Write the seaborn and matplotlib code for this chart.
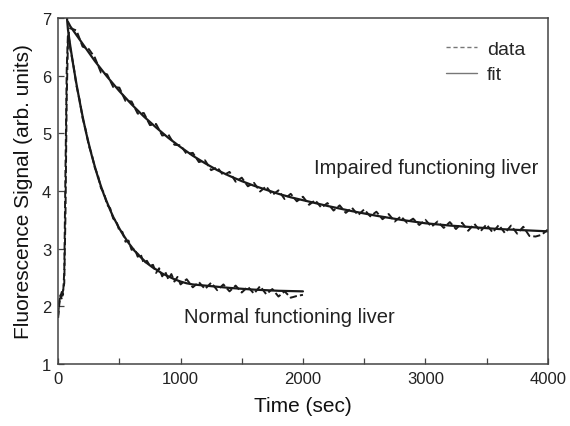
"""
Fluorescence signal vs time for normal and impaired functioning liver
"""

import numpy as np
import matplotlib
matplotlib.use("Agg")
import matplotlib.pyplot as plt
from matplotlib.ticker import MultipleLocator
from matplotlib.lines import Line2D
import seaborn as sns

# --- impaired liver: measured data (sec, arb. units) ---
impaired_time = [0, 10, 20, 30, 40, 50, 60, 70, 80, 90,
                 100, 150, 200, 250, 300, 350, 400, 450, 500, 550,
                 600, 650, 700, 750, 800, 850, 900, 950, 1000, 1050,
                 1100, 1150, 1200, 1250, 1300, 1350, 1400, 1450, 1500, 1550,
                 1600, 1650, 1700, 1750, 1800, 1850, 1900, 1950, 2000, 2050,
                 2100, 2150, 2200, 2250, 2300, 2350, 2400, 2450, 2500, 2550,
                 2600, 2650, 2700, 2750, 2800, 2850, 2900, 2950, 3000, 3050,
                 3100, 3150, 3200, 3250, 3300, 3350, 3400, 3450, 3500, 3550,
                 3600, 3650, 3700, 3750, 3800, 3850, 3900, 3950, 4000]
impaired_data = [1.80, 2.05, 2.20, 2.12, 2.28, 2.40, 3.60, 5.60, 6.55, 6.80,
                 6.82, 6.78, 6.50, 6.46, 6.31, 6.05, 6.02, 5.80, 5.79, 5.56,
                 5.55, 5.34, 5.35, 5.14, 5.16, 4.96, 4.98, 4.80, 4.79, 4.64,
                 4.66, 4.50, 4.53, 4.36, 4.41, 4.27, 4.33, 4.16, 4.23, 4.08,
                 4.14, 3.99, 4.08, 3.93, 4.01, 3.86, 3.95, 3.82, 3.90, 3.76,
                 3.84, 3.71, 3.79, 3.66, 3.75, 3.62, 3.71, 3.58, 3.68, 3.56,
                 3.64, 3.51, 3.60, 3.47, 3.56, 3.45, 3.52, 3.41, 3.50, 3.38,
                 3.47, 3.36, 3.46, 3.34, 3.45, 3.31, 3.43, 3.30, 3.42, 3.28,
                 3.41, 3.27, 3.40, 3.26, 3.38, 3.22, 3.21, 3.24, 3.33]

# --- impaired liver: fit ---
impaired_fit_time = [80, 100, 200, 300, 400, 500, 600, 700, 800, 900,
                     1000, 1100, 1200, 1300, 1400, 1500, 1600, 1700, 1800, 1900,
                     2000, 2200, 2400, 2600, 2800, 3000, 3200, 3400, 3600, 3800,
                     4000]
impaired_fit = [6.93, 6.85, 6.55, 6.25, 5.98, 5.73, 5.50, 5.29, 5.10, 4.92,
                4.76, 4.61, 4.48, 4.36, 4.26, 4.17, 4.09, 4.02, 3.95, 3.89,
                3.84, 3.74, 3.65, 3.57, 3.50, 3.44, 3.40, 3.37, 3.34, 3.32,
                3.30]

# --- normal liver: measured data ---
normal_time = [0, 10, 20, 30, 40, 50, 60, 70, 80, 90,
               100, 125, 150, 175, 200, 225, 250, 275, 300, 325,
               350, 375, 400, 425, 450, 475, 500, 525, 550, 575,
               600, 625, 650, 675, 700, 725, 750, 775, 800, 825,
               850, 875, 900, 925, 950, 975, 1000, 1050, 1100, 1150,
               1200, 1250, 1300, 1350, 1400, 1450, 1500, 1550, 1600, 1650,
               1700, 1750, 1800, 1850, 1900, 1950, 2000]
normal_data = [1.85, 2.10, 2.18, 2.25, 2.20, 2.60, 4.40, 6.10, 6.72, 6.62,
               6.45, 6.18, 5.82, 5.58, 5.26, 5.06, 4.79, 4.63, 4.40, 4.27,
               4.05, 3.96, 3.76, 3.70, 3.52, 3.48, 3.31, 3.29, 3.12, 3.14,
               2.98, 3.00, 2.86, 2.90, 2.74, 2.79, 2.70, 2.72, 2.58, 2.66,
               2.52, 2.60, 2.47, 2.56, 2.43, 2.51, 2.38, 2.47, 2.33, 2.42,
               2.30, 2.41, 2.28, 2.38, 2.26, 2.36, 2.24, 2.34, 2.22, 2.35,
               2.21, 2.30, 2.17, 2.26, 2.15, 2.18, 2.20]

# --- normal liver: fit ---
normal_fit_time = [70, 80, 100, 125, 150, 175, 200, 225, 250, 275,
                   300, 325, 350, 375, 400, 425, 450, 475, 500, 525,
                   550, 575, 600, 625, 650, 675, 700, 725, 750, 775,
                   800, 850, 900, 950, 1000, 1050, 1100, 1200, 1300, 1400,
                   1600, 1800, 2000]
normal_fit = [7.05, 6.80, 6.50, 6.16, 5.85, 5.56, 5.29, 5.04, 4.82, 4.61,
              4.42, 4.24, 4.08, 3.93, 3.80, 3.67, 3.55, 3.45, 3.35, 3.26,
              3.18, 3.10, 3.03, 2.96, 2.91, 2.85, 2.80, 2.75, 2.71, 2.67,
              2.64, 2.57, 2.52, 2.47, 2.43, 2.40, 2.38, 2.36, 2.34, 2.32,
              2.29, 2.27, 2.26]

x_ticks = [0, 1000, 2000, 3000, 4000]
y_ticks = [1, 2, 3, 4, 5, 6, 7]

sns.set_theme(style="ticks")
plt.rcParams["font.family"] = ["Liberation Sans", "DejaVu Sans"]

fig = plt.figure(figsize=(5.7, 4.27), dpi=100)
ax = fig.add_axes([0.102, 0.145, 0.859, 0.811])

line_col = "#1a1a1a"
sns.lineplot(x=impaired_time, y=impaired_data, ax=ax, color=line_col,
             linestyle="--", lw=1.4, sort=False)
sns.lineplot(x=normal_time, y=normal_data, ax=ax, color=line_col,
             linestyle="--", lw=1.4, sort=False)
sns.lineplot(x=impaired_fit_time, y=impaired_fit, ax=ax, color=line_col,
             lw=1.6, sort=False)
sns.lineplot(x=normal_fit_time, y=normal_fit, ax=ax, color=line_col,
             lw=1.6, sort=False)

ax.set_xlim(0, 4000)
ax.set_ylim(1, 7)
ax.set_xticks(x_ticks)
ax.set_yticks(y_ticks)
ax.xaxis.set_minor_locator(MultipleLocator(500))
ax.tick_params(axis="both", which="major", direction="in", length=4,
               width=0.9, color="#444444", labelsize=12, labelcolor="#222222",
               pad=5)
ax.tick_params(axis="x", which="minor", direction="in", length=4,
               width=0.9, color="#444444")
for side in ["top", "right", "left", "bottom"]:
    ax.spines[side].set_visible(True)
    ax.spines[side].set_color("#444444")
    ax.spines[side].set_linewidth(1.1)

ax.set_xlabel("Time (sec)", fontsize=15, color="#111111", labelpad=7)
ax.set_ylabel("Fluorescence Signal (arb. units)", fontsize=15,
              color="#111111", labelpad=6)

ax.text(2090, 4.40, "Impaired functioning liver", fontsize=14.5,
        color="#222222", ha="left", va="center")
ax.text(1030, 1.82, "Normal functioning liver", fontsize=14.5,
        color="#222222", ha="left", va="center")

handles = [Line2D([0], [0], color="#777777", lw=1.0, linestyle=(0, (3, 2))),
           Line2D([0], [0], color="#777777", lw=1.0)]
ax.legend(handles, ["data", "fit"], loc="upper right", frameon=False,
          fontsize=14, handlelength=1.6, handletextpad=0.5,
          labelspacing=0.4, bbox_to_anchor=(0.99, 0.985))

fig.savefig("out.png", dpi=100)
plt.close(fig)
